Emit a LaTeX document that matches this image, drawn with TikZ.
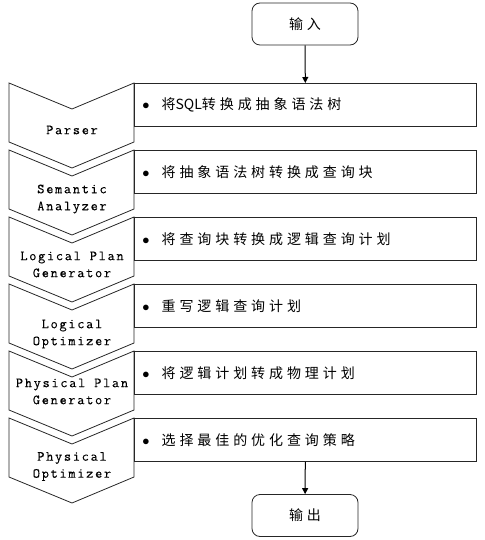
\documentclass[tikz,border=0pt]{standalone}
\usepackage{fontspec}
\newfontfamily\cjk[LetterSpace=28]{Noto Sans CJK SC}
\newfontfamily\cjklatin{Noto Sans CJK SC}
\newfontfamily\monolabel[LetterSpace=12,FakeBold=0.2]{Latin Modern Mono}
\usetikzlibrary{arrows.meta}

\begin{document}
\begin{tikzpicture}[x=1pt,y=-1pt,
  chev/.style={draw=black!85, line width=0.8pt},
  stepbox/.style={draw=black!85, line width=0.8pt, anchor=north west, minimum height=43pt,
    text width=326pt, align=left, inner xsep=8pt, font=\cjk\fontsize{14}{16}\selectfont},
  steplabel/.style={align=center, inner sep=0pt, font=\monolabel\fontsize{14}{17}\selectfont},
  term/.style={draw=black!85, line width=0.8pt, rounded corners=8pt, minimum width=106pt,
    minimum height=42pt, font=\cjk\fontsize{14}{16}\selectfont},
  flow/.style={line width=1pt, -{Triangle[length=6pt,width=6pt]}}]
\useasboundingbox (0,0) rectangle (484,540);
% chevrons
\draw[chev] (9,83) -- (72,109) -- (134,83) -- (134,142) -- (72,168) -- (9,142) -- cycle;
\draw[chev] (9,150) -- (72,176) -- (134,150) -- (134,209) -- (72,235) -- (9,209) -- cycle;
\draw[chev] (9,217) -- (72,243) -- (134,217) -- (134,276) -- (72,302) -- (9,276) -- cycle;
\draw[chev] (9,284) -- (72,310) -- (134,284) -- (134,343) -- (72,369) -- (9,343) -- cycle;
\draw[chev] (9,351) -- (72,377) -- (134,351) -- (134,410) -- (72,436) -- (9,410) -- cycle;
\draw[chev] (9,418) -- (72,444) -- (134,418) -- (134,477) -- (72,503) -- (9,477) -- cycle;
\node[steplabel] (parser) at (72,130) {Parser};
\node[steplabel] (semantic) at (72,199) {Semantic\\Analyzer};
\node[steplabel] (logplan) at (72,264.5) {Logical Plan\\Generator};
\node[steplabel] (logopt) at (72,334) {Logical\\Optimizer};
\node[steplabel] (phyplan) at (72,391.5) {Physical Plan\\Generator};
\node[steplabel] (phyopt) at (72,466.5) {Physical\\Optimizer};
% boxes
\node[stepbox] (r1) at (134,83) {$\bullet$\hspace{12pt}将{\cjklatin SQL}转换成抽象语法树};
\node[stepbox] (r2) at (134,150) {$\bullet$\hspace{12pt}将抽象语法树转换成查询块};
\node[stepbox] (r3) at (134,217) {$\bullet$\hspace{12pt}将查询块转换成逻辑查询计划};
\node[stepbox] (r4) at (134,284) {$\bullet$\hspace{12pt}重写逻辑查询计划};
\node[stepbox] (r5) at (134,351) {$\bullet$\hspace{12pt}将逻辑计划转成物理计划};
\node[stepbox] (r6) at (134,418) {$\bullet$\hspace{12pt}选择最佳的优化查询策略};
\node[term] (in) at (305,24) {输入};
\node[term] (out) at (305,515.5) {输出};
\draw[flow] (in) -- (r1);
\draw[flow] (r6) -- (out);
\end{tikzpicture}
\end{document}
